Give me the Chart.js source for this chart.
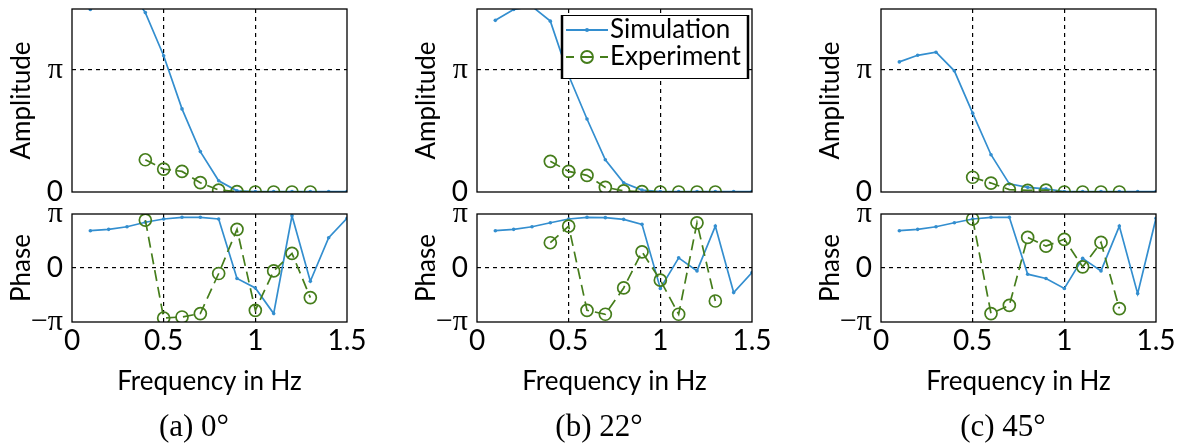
<!DOCTYPE html>
<html>
<head>
<meta charset="utf-8">
<script src="https://cdn.jsdelivr.net/npm/chart.js@4.4.1/dist/chart.umd.min.js"></script>
<style>
  html, body { margin: 0; padding: 0; background: #fff; }
  body { width: 1182px; height: 443px; position: relative; overflow: hidden; }
  canvas { position: absolute; }
  .cap { position: absolute; width: 300px; text-align: center; font: 31px "Liberation Serif", serif; line-height: 1; color: #000; }
</style>
</head>
<body>
<script>
const PI = Math.PI;

// Frequencies (Hz)
const simFreq = [0.1, 0.2, 0.3, 0.4, 0.5, 0.6, 0.7, 0.8, 0.9, 1.0, 1.1, 1.2, 1.3, 1.4, 1.5];
const expFreqA = [0.4, 0.5, 0.6, 0.7, 0.8, 0.9, 1.0, 1.1, 1.2, 1.3];
const expFreqB = [0.4, 0.5, 0.6, 0.7, 0.8, 0.9, 1.0, 1.1, 1.2, 1.3];
const expFreqC = [0.5, 0.6, 0.7, 0.8, 0.9, 1.0, 1.1, 1.2, 1.3];

// Amplitude
const simAmpA = [4.70, 5.10, 5.30, 4.62, 3.51, 2.14, 1.04, 0.29, 0.03, 0.01, 0.01, 0.01, 0.01, 0.01, 0.01];
const simAmpB = [4.42, 4.70, 4.78, 4.40, 3.00, 1.88, 0.83, 0.24, 0.05, 0.01, 0.01, 0.01, 0.01, 0.01, 0.01];
const simAmpC = [3.35, 3.52, 3.60, 3.12, 2.03, 0.96, 0.21, 0.12, 0.08, 0.01, 0.01, 0.01, 0.01, 0.01, 0.01];
const expAmpA = [0.83, 0.59, 0.53, 0.24, 0.05, 0.01, 0.00, 0.00, 0.00, 0.00];
const expAmpB = [0.79, 0.53, 0.43, 0.12, 0.03, 0.01, 0.00, 0.00, 0.00, 0.00];
const expAmpC = [0.38, 0.23, 0.06, 0.04, 0.05, 0.00, 0.00, 0.00, 0.00];

// Phase
const simPhaseA = [2.17, 2.25, 2.40, 2.66, 2.85, 2.95, 2.95, 2.85, -0.61, -1.16, -2.65, 3.04, -0.77, 1.76, 2.89];
const simPhaseB = [2.17, 2.25, 2.40, 2.63, 2.85, 2.95, 2.93, 2.83, 2.54, -1.19, 0.59, -0.17, 2.44, -1.43, -0.26];
const simPhaseC = [2.17, 2.25, 2.40, 2.63, 2.85, 2.95, 2.95, -0.36, -0.61, -1.19, 0.56, -0.17, 2.44, -1.49, 2.89];
const expPhaseA = [2.79, -2.91, -2.85, -2.65, -0.32, 2.25, -2.46, -0.17, 0.85, -1.72];
const expPhaseB = [1.47, 2.44, -2.46, -2.69, -1.16, 0.94, -0.71, -2.69, 2.63, -1.92];
const expPhaseC = [2.85, -2.65, -2.17, 1.78, 1.27, 1.67, 0.07, 1.49, -2.36];

// Ticks and labels
const freqTicks = [0, 0.5, 1, 1.5];
const freqTickLabels = ['0', '0.5', '1', '1.5'];
const ampTicks = [0, PI];
const ampTickLabels = ['0', 'π'];
const phaseTicks = [-PI, 0, PI];
const phaseTickLabels = ['−π', '0', 'π'];
const seriesNames = ['Simulation', 'Experiment'];
const captions = ['(a) 0°', '(b) 22°', '(c) 45°'];

const BLUE = '#338ecf';
const GREEN = '#457d1b';
const SANS = 'Lato';
const SERIF = 'Liberation Serif';

// panel geometry
const plotLefts = [72, 477, 881];
const axisW = 72, plotW = 275, padR = 30;
const canvasW = axisW + plotW + padR;

const panels = [
  { sf: simFreq, ef: expFreqA, sa: simAmpA, ea: expAmpA, sp: simPhaseA, ep: expPhaseA },
  { sf: simFreq, ef: expFreqB, sa: simAmpB, ea: expAmpB, sp: simPhaseB, ep: expPhaseB },
  { sf: simFreq, ef: expFreqC, sa: simAmpC, ea: expAmpC, sp: simPhaseC, ep: expPhaseC }
];

function points(xs, ys) {
  return xs.map((x, i) => ({ x: x, y: ys[i] }));
}

function simSet(xs, ys) {
  return {
    label: seriesNames[0], data: points(xs, ys), order: 1,
    borderColor: BLUE, backgroundColor: BLUE, borderWidth: 1.7,
    pointRadius: 1.8, pointBorderWidth: 0, pointBackgroundColor: BLUE
  };
}

function expSet(xs, ys) {
  return {
    label: seriesNames[1], data: points(xs, ys), order: 0,
    borderColor: GREEN, borderWidth: 1.7, borderDash: [11, 6],
    pointRadius: 6, pointBorderWidth: 1.7, pointBorderColor: GREEN,
    pointBackgroundColor: 'rgba(0,0,0,0)'
  };
}

// dashed black grid only at the given values
function gridAt(vals) {
  return ctx => (ctx.tick && vals.includes(ctx.tick.value)) ? '#000' : 'rgba(0,0,0,0)';
}

function tickFont(ctx) {
  const v = ctx.tick ? ctx.tick.value : 0;
  return v === 0 ? { family: SANS, size: 28, lineHeight: 1 } : { family: SERIF, size: 30, lineHeight: 1 };
}

// box around the plot area
const framePlugin = {
  id: 'frame',
  afterDatasetsDraw(chart) {
    const { ctx, chartArea: a } = chart;
    ctx.save();
    ctx.strokeStyle = '#000';
    ctx.lineWidth = 1.3;
    ctx.setLineDash([]);
    ctx.strokeRect(a.left, a.top, a.right - a.left, a.bottom - a.top);
    ctx.restore();
  }
};

// legend box drawn inside the plot
const legendPlugin = {
  id: 'boxLegend',
  afterDraw(chart) {
    const { ctx, chartArea: a } = chart;
    const x0 = a.left + 84, y0 = a.top + 6, w = a.right - 3 - x0, h = 64;
    ctx.save();
    ctx.fillStyle = '#fff';
    ctx.fillRect(x0, y0, w, h);
    ctx.strokeStyle = '#000';
    ctx.lineWidth = 1;
    ctx.strokeRect(x0 + 0.5, y0 + 0.5, w - 1, h - 1);
    ctx.lineWidth = 2.5;
    ctx.beginPath();
    ctx.moveTo(x0 + 1, y0); ctx.lineTo(x0 + 1, y0 + h);
    ctx.moveTo(x0 + w - 1, y0); ctx.lineTo(x0 + w - 1, y0 + h);
    ctx.stroke();

    const r1 = y0 + 15, r2 = y0 + 42, sx = x0 + 5, ex = x0 + 47, cx = (sx + ex) / 2;
    // simulation sample
    ctx.strokeStyle = BLUE; ctx.lineWidth = 2;
    ctx.beginPath(); ctx.moveTo(sx, r1); ctx.lineTo(ex, r1); ctx.stroke();
    ctx.fillStyle = BLUE;
    ctx.beginPath(); ctx.arc(cx, r1, 2, 0, 2 * PI); ctx.fill();
    // experiment sample
    ctx.strokeStyle = GREEN; ctx.lineWidth = 2;
    ctx.beginPath();
    ctx.moveTo(sx, r2); ctx.lineTo(sx + 8, r2);
    ctx.moveTo(cx - 6, r2); ctx.lineTo(cx + 6, r2);
    ctx.moveTo(ex - 8, r2); ctx.lineTo(ex, r2);
    ctx.stroke();
    ctx.lineWidth = 1.8;
    ctx.beginPath(); ctx.arc(cx, r2, 6, 0, 2 * PI); ctx.stroke();

    ctx.fillStyle = '#000';
    ctx.font = '26px ' + SANS;
    ctx.textBaseline = 'middle';
    ctx.textAlign = 'left';
    ctx.fillText(seriesNames[0], x0 + 49, r1);
    ctx.fillText(seriesNames[1], x0 + 49, r2);
    ctx.restore();
  }
};

function makeCanvas(left, top, w, h) {
  const c = document.createElement('canvas');
  c.width = w; c.height = h;
  c.style.left = left + 'px'; c.style.top = top + 'px';
  c.style.width = w + 'px'; c.style.height = h + 'px';
  document.body.appendChild(c);
  return c;
}

Chart.defaults.font.family = SANS;
Chart.defaults.color = '#000';

panels.forEach((p, i) => {
  const left = plotLefts[i] - axisW;

  // amplitude plot: area from y=9 to y=192
  const ampH = 212, ampTop = 9, ampArea = 183;
  new Chart(makeCanvas(left, 0, canvasW, ampH), {
    type: 'line',
    data: { datasets: [simSet(p.sf, p.sa), expSet(p.ef, p.ea)] },
    options: {
      responsive: false, animation: false, devicePixelRatio: 1,
      layout: { padding: { top: ampTop, right: padR, bottom: 0, left: 0 } },
      plugins: { legend: { display: false }, tooltip: { enabled: false } },
      scales: {
        x: {
          type: 'linear', min: 0, max: 1.5,
          afterBuildTicks: s => { s.ticks = freqTicks.map(v => ({ value: v })); },
          afterFit: s => { s.height = ampH - ampTop - ampArea; s.paddingLeft = 0; s.paddingRight = 0; },
          ticks: { display: false },
          grid: { color: gridAt([0.5, 1]), drawTicks: false, lineWidth: 1.2 },
          border: { display: false, dash: [4, 4] }
        },
        y: {
          min: 0, max: 1.5 * PI,
          afterBuildTicks: s => { s.ticks = ampTicks.map(v => ({ value: v })); },
          afterFit: s => { s.width = axisW; s.paddingTop = 0; s.paddingBottom = 0; },
          ticks: { padding: 9, font: tickFont, callback: v => ampTickLabels[ampTicks.indexOf(v)] },
          grid: { color: gridAt([PI]), drawTicks: false, lineWidth: 1.2 },
          border: { display: false, dash: [4, 4] },
          title: { display: true, text: 'Amplitude', font: { family: SANS, size: 26 }, padding: { top: 6, bottom: 0 } }
        }
      }
    },
    plugins: i === 1 ? [framePlugin, legendPlugin] : [framePlugin]
  });

  // phase plot: area from y=214 to y=322
  const phTop = 200, phH = 210, phPadTop = 14, phArea = 108;
  new Chart(makeCanvas(left, phTop, canvasW, phH), {
    type: 'line',
    data: { datasets: [simSet(p.sf, p.sp), expSet(p.ef, p.ep)] },
    options: {
      responsive: false, animation: false, devicePixelRatio: 1,
      layout: { padding: { top: phPadTop, right: padR, bottom: 0, left: 0 } },
      plugins: { legend: { display: false }, tooltip: { enabled: false } },
      scales: {
        x: {
          type: 'linear', min: 0, max: 1.5,
          afterBuildTicks: s => { s.ticks = freqTicks.map(v => ({ value: v })); },
          afterFit: s => { s.height = phH - phPadTop - phArea; s.paddingLeft = 0; s.paddingRight = 0; },
          ticks: { padding: 2, autoSkip: false, maxRotation: 0, font: { family: SANS, size: 28 },
                   callback: v => freqTickLabels[freqTicks.indexOf(v)] },
          grid: { color: gridAt([0.5, 1]), drawTicks: false, lineWidth: 1.2 },
          border: { display: false, dash: [4, 4] },
          title: { display: true, text: 'Frequency in Hz', font: { family: SANS, size: 26 }, padding: { top: 0, bottom: 13 } }
        },
        y: {
          min: -PI, max: PI,
          afterBuildTicks: s => { s.ticks = phaseTicks.map(v => ({ value: v })); },
          afterFit: s => { s.width = axisW; s.paddingTop = 0; s.paddingBottom = 0; },
          ticks: { padding: 9, font: tickFont, callback: v => phaseTickLabels[phaseTicks.indexOf(v)] },
          grid: { color: gridAt([0]), drawTicks: false, lineWidth: 1.2 },
          border: { display: false, dash: [4, 4] },
          title: { display: true, text: 'Phase', font: { family: SANS, size: 26 }, padding: { top: 6, bottom: 0 } }
        }
      }
    },
    plugins: [framePlugin]
  });

  // sub-figure caption
  const cap = document.createElement('div');
  cap.className = 'cap';
  cap.textContent = captions[i];
  cap.style.left = (plotLefts[i] + 122 - 150) + 'px';
  cap.style.top = '410px';
  document.body.appendChild(cap);
});
</script>
</body>
</html>
